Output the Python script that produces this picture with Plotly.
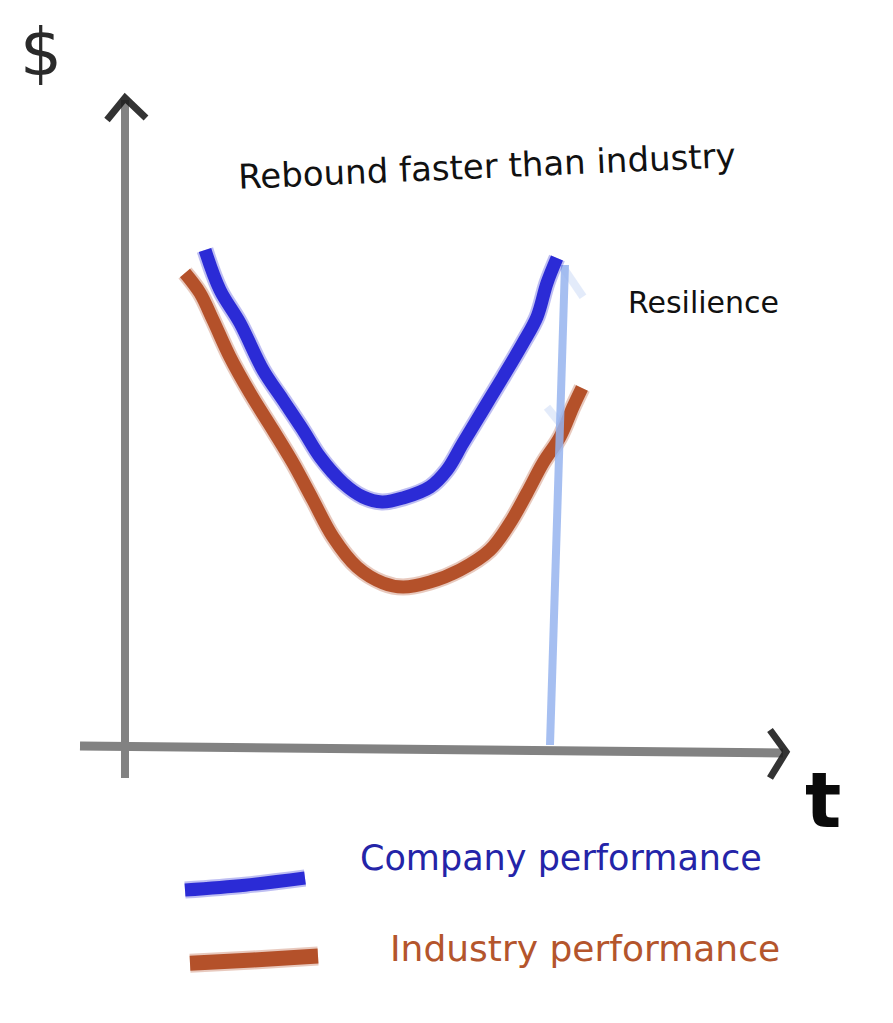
import plotly.graph_objects as go

# ---- data (t = time units, v = $ units) ----
company_t = [2.0, 2.375, 2.875, 3.45, 3.95, 4.45, 4.875, 5.45, 5.95, 6.425, 6.95, 7.625, 8.05, 8.45, 8.95, 9.45, 9.95, 10.3, 10.55, 10.8]
company_v = [12.5, 11.5, 10.675, 9.5, 8.75, 8.0, 7.325, 6.675, 6.325, 6.2, 6.3, 6.575, 7.0, 7.675, 8.5, 9.325, 10.175, 10.825, 11.675, 12.3]

industry_t = [1.5, 1.875, 2.2, 2.625, 3.125, 3.7, 4.2, 4.7, 5.2, 5.8, 6.45, 6.95, 7.625, 8.375, 9.125, 9.625, 10.05, 10.45, 10.875, 11.2, 11.425]
industry_v = [11.925, 11.425, 10.75, 9.825, 8.925, 8.0, 7.175, 6.25, 5.325, 4.575, 4.175, 4.075, 4.2, 4.5, 5.0, 5.675, 6.425, 7.175, 7.825, 8.575, 9.05]

resilience_t = [10.625, 11.0]
resilience_v = [0.125, 12.125]

legend_company_t = [1.5, 3.0, 4.5]
legend_company_v = [-3.5, -3.38, -3.2]
legend_industry_t = [1.625, 3.2, 4.825]
legend_industry_v = [-5.33, -5.25, -5.15]

labels = {
    "title": "Rebound faster than industry",
    "resilience": "Resilience",
    "company": "Company performance",
    "industry": "Industry performance",
    "ylab": "$",
    "xlab": "t",
}

BLUE = "#2b2bd6"
ORANGE = "#b4512a"
LIGHTBLUE = "rgba(150,180,238,0.85)"
AXIS = "#828282"

fig = go.Figure()

def stroke(x, y, color, width, shape="spline", opacity=1.0):
    fig.add_trace(go.Scatter(x=x, y=y, mode="lines", opacity=opacity,
                             line=dict(color=color, width=width, shape=shape),
                             hoverinfo="skip", showlegend=False))

# axes (drawn like the sketch)
stroke([0, 0], [-0.7, 16.25], AXIS, 8, "linear")
stroke([-1.125, 16.45], [0.1, -0.075], AXIS, 9, "linear")
stroke([-0.45, 0.0, 0.525], [15.75, 16.3, 15.8], "#1e1e1e", 7, "linear", 0.9)
stroke([16.125, 16.525, 16.125], [0.5, -0.05, -0.7], "#1e1e1e", 7, "linear", 0.9)

# industry curve (soft edge + core)
stroke(industry_t, industry_v, ORANGE, 17, opacity=0.3)
stroke(industry_t, industry_v, ORANGE, 13)

# resilience line with faint tick marks
stroke(resilience_t, resilience_v, LIGHTBLUE, 8, "linear")
stroke([10.95, 11.45], [12.07, 11.33], LIGHTBLUE, 8, "linear", 0.3)
stroke([10.55, 10.875], [8.57, 8.17], LIGHTBLUE, 8, "linear", 0.3)

# company curve
stroke(company_t, company_v, BLUE, 17, opacity=0.3)
stroke(company_t, company_v, BLUE, 13)

# legend strokes
stroke(legend_company_t, legend_company_v, BLUE, 17, opacity=0.3)
stroke(legend_company_t, legend_company_v, BLUE, 13)
stroke(legend_industry_t, legend_industry_v, ORANGE, 19, opacity=0.3)
stroke(legend_industry_t, legend_industry_v, ORANGE, 15)

FONT = "DejaVu Sans"
ann = [
    dict(x=9.05, y=14.6, text=labels["title"], textangle=-2.5,
         font=dict(family=FONT, size=34, color="#111")),
    dict(x=14.45, y=11.2, text=labels["resilience"],
         font=dict(family=FONT, size=30, color="#111")),
    dict(x=10.9, y=-2.7, text=labels["company"],
         font=dict(family=FONT, size=35, color="#2424a8")),
    dict(x=11.5, y=-4.95, text=labels["industry"],
         font=dict(family=FONT, size=36, color="#b4552c")),
    dict(x=-2.1, y=17.45, text=labels["ylab"],
         font=dict(family=FONT, size=66, color="#2a2a2a")),
    dict(x=17.45, y=-1.25, text="<b>" + labels["xlab"] + "</b>",
         font=dict(family=FONT, size=76, color="#0a0a0a")),
]
for a in ann:
    a.update(xref="x", yref="y", showarrow=False, xanchor="center", yanchor="middle")

# page body has an 8px default margin: shrink the figure so the drawing lands
# where the sketch has it
fig.update_layout(
    width=885, height=1015,
    margin=dict(l=0, r=0, t=0, b=0),
    paper_bgcolor="white", plot_bgcolor="white",
    xaxis=dict(range=[-2.925, 19.2], visible=False, fixedrange=True),
    yaxis=dict(range=[-6.825, 18.55], visible=False, fixedrange=True),
    annotations=ann,
    showlegend=False,
)

fig.write_html("out.html")
